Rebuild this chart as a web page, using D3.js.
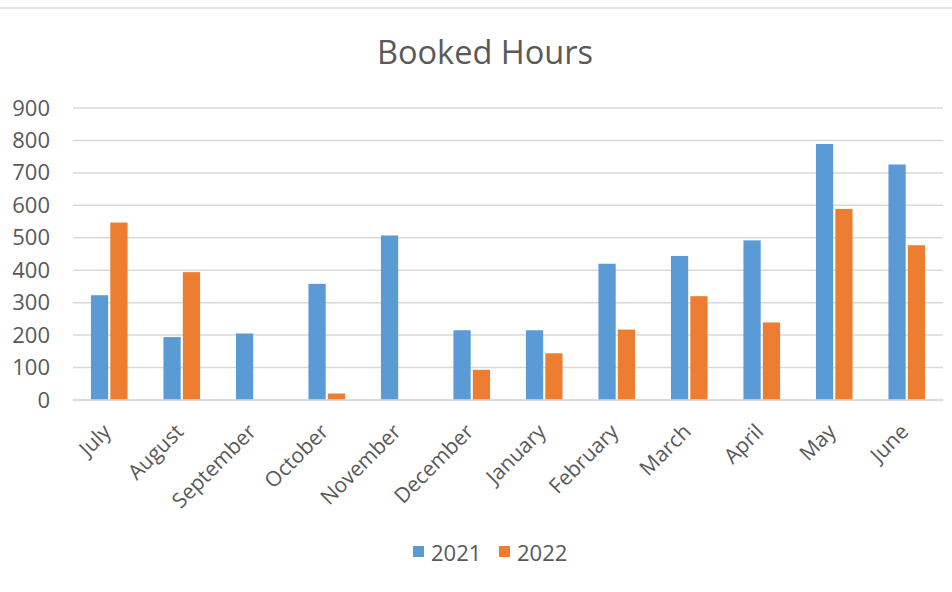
<!DOCTYPE html>
<html>
<head>
<meta charset="utf-8">
<script src="https://cdn.jsdelivr.net/npm/d3@7/dist/d3.min.js"></script>
<style>
  body { margin: 0; background: #fff; }
  svg { display: block; font-family: "Open Sans", sans-serif; }
</style>
</head>
<body>
<svg id="chart" width="952" height="592"></svg>
<script>
const months = ["July","August","September","October","November","December","January","February","March","April","May","June"];
const series2021 = [323, 194, 205, 358, 507, 215, 215, 420, 444, 492, 789, 726];
const series2022 = [547, 394, 0, 20, 0, 93, 144, 217, 320, 239, 589, 477];
const yTicks = [0, 100, 200, 300, 400, 500, 600, 700, 800, 900];
const seriesNames = ["2021", "2022"];
const colors = ["#5B9BD5", "#ED7D31"];

const svg = d3.select("#chart");
const W = 952, H = 592;
const margin = { left: 73, right: 9, top: 108, bottom: 192 };
const plotW = W - margin.left - margin.right;
const plotH = H - margin.top - margin.bottom;

// top border line
svg.append("line").attr("x1", 0).attr("x2", W).attr("y1", 8).attr("y2", 8)
  .attr("stroke", "#d9d9d9").attr("stroke-width", 1.5);

const g = svg.append("g").attr("transform", `translate(${margin.left},${margin.top})`);

const x = d3.scaleBand().domain(months).range([0, plotW]).paddingInner(0).paddingOuter(0);
const y = d3.scaleLinear().domain([0, 900]).range([plotH, 0]);

// gridlines
g.append("g").selectAll("line").data(yTicks).join("line")
  .attr("x1", 0).attr("x2", plotW)
  .attr("y1", d => y(d)).attr("y2", d => y(d))
  .attr("stroke", "#d9d9d9").attr("stroke-width", 1.5);

// y-axis labels
const yAxis = d3.axisLeft(y).tickValues(yTicks).tickSize(0).tickPadding(23);
const ya = g.append("g").call(yAxis);
ya.select(".domain").remove();
ya.selectAll("text").attr("fill", "#595959").style("font-size", "22px")
  .style("font-family", "'Open Sans', sans-serif");

// bars
const inner = d3.scaleBand().domain(seriesNames).range([0, 36.6]).paddingInner(0.11);
const groupOffset = (x.bandwidth() - 36.6) / 2;
const data = months.map((m, i) => ({ m, vals: [series2021[i], series2022[i]] }));
const grp = g.append("g").selectAll("g").data(data).join("g")
  .attr("transform", d => `translate(${x(d.m) + groupOffset},0)`);
grp.selectAll("rect").data(d => d.vals.map((v, k) => ({ v, k })).filter(e => e.v > 0)).join("rect")
  .attr("x", e => inner(seriesNames[e.k]))
  .attr("width", inner.bandwidth())
  .attr("y", e => y(e.v))
  .attr("height", e => y(0) - y(e.v))
  .attr("fill", e => colors[e.k]);

// redraw baseline on top
g.append("line").attr("x1", 0).attr("x2", plotW).attr("y1", y(0)).attr("y2", y(0))
  .attr("stroke", "#d9d9d9").attr("stroke-width", 1.5);

// x-axis labels (rotated)
const xAxis = d3.axisBottom(x).tickSize(0).tickPadding(0);
const xa = g.append("g").attr("transform", `translate(0,${plotH})`).call(xAxis);
xa.select(".domain").remove();
xa.selectAll("text")
  .attr("fill", "#595959").style("font-size", "21px")
  .style("font-family", "'Open Sans', sans-serif")
  .attr("text-anchor", "end")
  .attr("dy", null)
  .attr("transform", "translate(3,33) rotate(-45)");

// title
svg.append("text").attr("x", 485).attr("y", 64).attr("text-anchor", "middle")
  .attr("fill", "#595959").style("font-size", "32.5px").text("Booked Hours");

// legend
const legend = svg.append("g");
const legX = [413, 499];
seriesNames.forEach((s, i) => {
  legend.append("rect").attr("x", legX[i]).attr("y", 546).attr("width", 11).attr("height", 11)
    .attr("fill", colors[i]);
  legend.append("text").attr("x", legX[i] + 18).attr("y", 561)
    .attr("fill", "#595959").style("font-size", "22px").text(s);
});
</script>
</body>
</html>
